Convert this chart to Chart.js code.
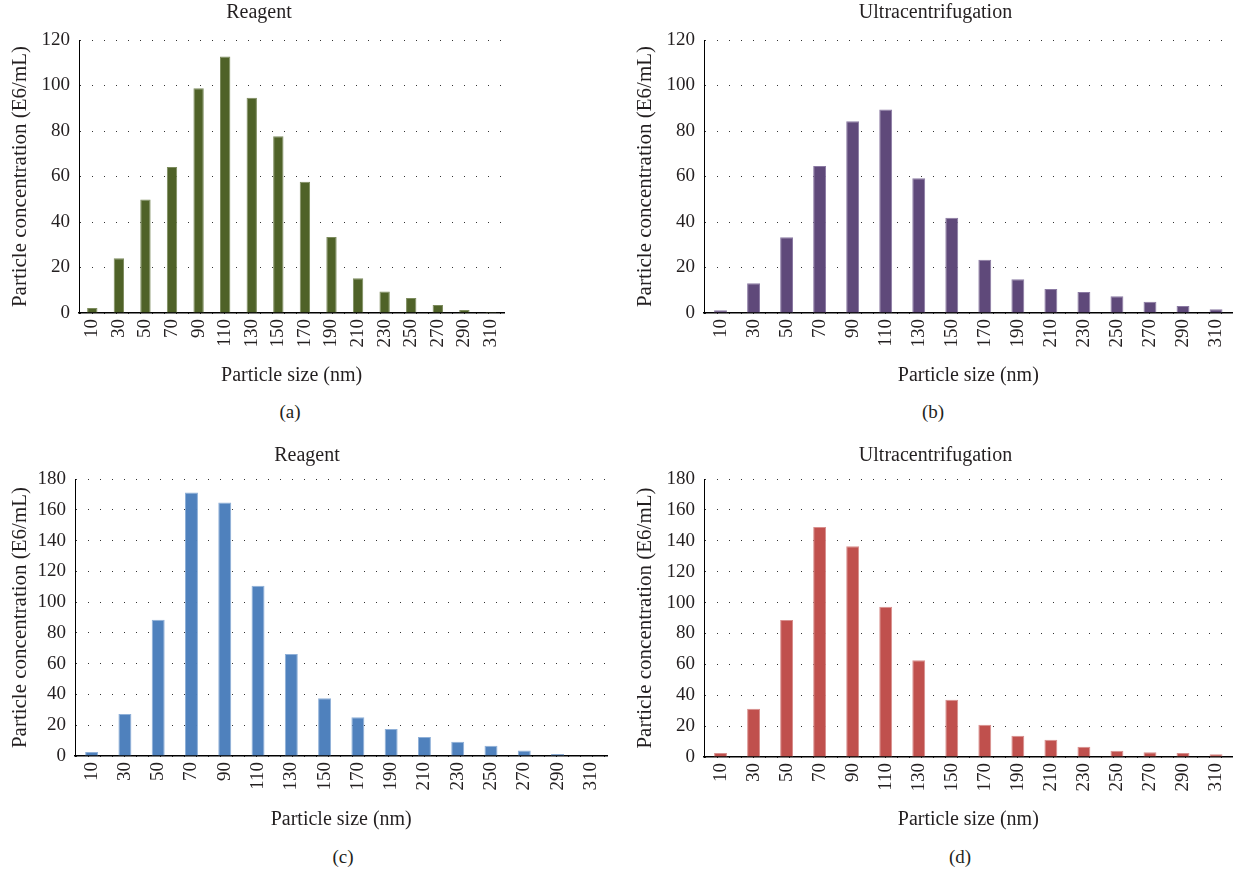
<!DOCTYPE html>
<html>
<head>
<meta charset="utf-8">
<script src="https://cdn.jsdelivr.net/npm/chart.js@4.4.1/dist/chart.umd.min.js"></script>
<style>
  html, body { margin: 0; padding: 0; background: #fff; }
  body { width: 1245px; height: 873px; position: relative; overflow: hidden; font-family: 'Liberation Serif', serif; }
  .box { position: absolute; }
  .cap { position: absolute; font-family: 'Liberation Serif', serif; font-size: 19px; color: #231f20; transform: translate(-50%, -50%); white-space: nowrap; }
</style>
</head>
<body>
<div class="box" id="ba" style="left:0px;top:0px;width:520px;height:400px"><canvas id="ca"></canvas></div>
<div class="box" id="bb" style="left:625px;top:0px;width:620px;height:400px"><canvas id="cb"></canvas></div>
<div class="box" id="bc" style="left:0px;top:440px;width:620px;height:400px"><canvas id="cc"></canvas></div>
<div class="box" id="bd" style="left:625px;top:440px;width:620px;height:400px"><canvas id="cd"></canvas></div>
<div class="cap" style="left:290px;top:412px">(a)</div>
<div class="cap" style="left:933px;top:412px">(b)</div>
<div class="cap" style="left:343px;top:857px">(c)</div>
<div class="cap" style="left:960px;top:857px">(d)</div>
<script>
// ---- data ----
const particleSizes = ['10','30','50','70','90','110','130','150','170','190','210','230','250','270','290','310'];
const reagentA = [2.2, 24.1, 49.9, 64.2, 98.8, 112.7, 94.6, 77.7, 57.7, 33.4, 15.3, 9.5, 6.6, 3.5, 1.3, 0.4];
const ultraB   = [1.2, 13.1, 33.3, 64.6, 84.3, 89.4, 59.2, 41.9, 23.4, 14.8, 10.6, 9.2, 7.4, 4.9, 3.1, 1.7];
const reagentC = [2.6, 27.3, 88.6, 171.3, 164.8, 110.7, 66.3, 37.5, 25.1, 17.5, 12.3, 9.3, 6.7, 3.5, 1.3, 0];
const ultraD   = [2.6, 31.3, 88.7, 148.9, 136.4, 97.3, 62.6, 37.1, 20.9, 13.8, 11.2, 6.7, 4.1, 3.0, 2.6, 1.7];
const titles = ['Reagent', 'Ultracentrifugation', 'Reagent', 'Ultracentrifugation'];
const yAxisTitle = 'Particle concentration (E6/mL)';
const xAxisTitle = 'Particle size (nm)';
const yMaxTop = 120, yMaxBottom = 180, yStep = 20;

const FONT = "'Liberation Serif', serif";
const INK = '#231f20';

function makeChart(id, title, values, color, edge, yMax, L) {
  return new Chart(document.getElementById(id), {
    type: 'bar',
    data: {
      labels: particleSizes,
      datasets: [{ data: values, backgroundColor: color, borderColor: edge, borderWidth: 1, borderSkipped: 'bottom',
                   categoryPercentage: 1.0, barPercentage: 0.39 }]
    },
    options: {
      responsive: true,
      maintainAspectRatio: false,
      animation: false,
      events: [],
      layout: { padding: { left: L.padLeft, right: L.padRight, top: 0, bottom: 0 } },
      plugins: {
        legend: { display: false },
        tooltip: { enabled: false },
        title: {
          display: true, text: title, color: INK,
          font: { family: FONT, size: 20, weight: 'normal' },
          padding: { top: L.titleTop, bottom: L.titleBottom }
        }
      },
      scales: {
        x: {
          grid: { display: false, drawTicks: false },
          border: { display: true, color: '#000', width: 1.5 },
          ticks: { color: INK, font: { family: FONT, size: 19 }, minRotation: 90, maxRotation: 90, padding: 6, autoSkip: false },
          title: { display: true, text: xAxisTitle, color: INK, font: { family: FONT, size: 20 }, padding: { top: 0, bottom: L.xTitleBottom } },
          afterFit: s => { s.height = L.xHeight; }
        },
        y: {
          min: 0, max: yMax,
          grid: { color: '#333', lineWidth: 1, drawTicks: false },
          border: { display: true, color: '#000', width: 1, dash: [1, 11] },
          ticks: { stepSize: yStep, color: INK, font: { family: FONT, size: 19 }, padding: 9 },
          title: { display: true, text: yAxisTitle, color: INK, font: { family: FONT, size: 21 }, padding: { top: L.yTitleTop, bottom: 0 } },
          afterFit: s => { s.width = L.yWidth; }
        }
      }
    }
  });
}

makeChart('ca', titles[0], reagentA, '#4f6228', '#7d8c5e', yMaxTop,
  { padLeft: 6, padRight: 8, titleTop: 1, titleBottom: 15, xTitleBottom: 12, xHeight: 87, yTitleTop: 2, yWidth: 73 });
makeChart('cb', titles[1], ultraB, '#5f497a', '#8b7aa3', yMaxTop,
  { padLeft: 6, padRight: 5, titleTop: 1, titleBottom: 15, xTitleBottom: 12, xHeight: 87, yTitleTop: 2, yWidth: 73 });
makeChart('cc', titles[2], reagentC, '#4f81bd', '#8fb0d8', yMaxBottom,
  { padLeft: 6, padRight: 12, titleTop: 4, titleBottom: 11, xTitleBottom: 8, xHeight: 84, yTitleTop: 2, yWidth: 69 });
makeChart('cd', titles[3], ultraD, '#c0504d', '#d88f8d', yMaxBottom,
  { padLeft: 6, padRight: 5, titleTop: 4, titleBottom: 11, xTitleBottom: 8, xHeight: 83, yTitleTop: 2, yWidth: 73 });
</script>
</body>
</html>
